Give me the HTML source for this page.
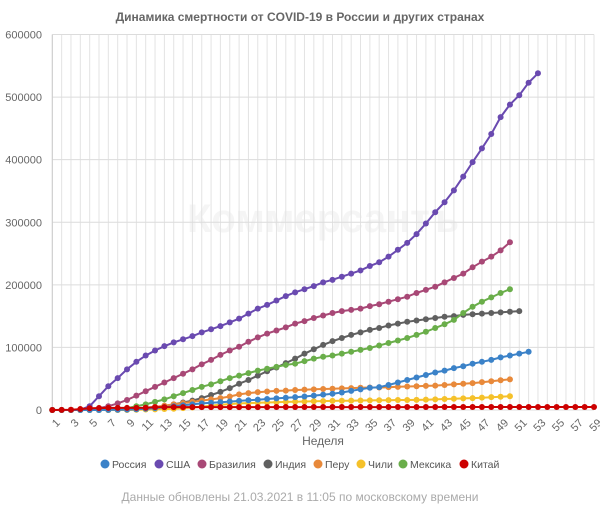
<!DOCTYPE html>
<html><head><meta charset="utf-8">
<style>
html,body{margin:0;padding:0;background:#fff;}
body{width:600px;height:504px;overflow:hidden;font-family:"Liberation Sans",sans-serif;}
svg text{font-family:"Liberation Sans",sans-serif;}
</style></head>
<body>
<svg id="chart" width="600" height="504" xmlns="http://www.w3.org/2000/svg">
<text x="300" y="21" text-anchor="middle" font-size="12" font-weight="bold" fill="#666">Динамика смертности от COVID-19 в России и других странах</text>
<text x="323" y="232" text-anchor="middle" font-size="40" font-weight="bold" fill="#f5f5f5">Коммерсантъ</text>
<g id="grid"></g>
<g id="axes"></g>
<g id="series"></g>
<text x="323" y="445" text-anchor="middle" font-size="12" fill="#666">Неделя</text>
<g id="legend"></g>
<text x="300" y="501" text-anchor="middle" font-size="12" fill="#aaa">Данные обновлены 21.03.2021 в 11:05 по московскому времени</text>
</svg>
<script>
const weeks = Array.from({length:59},(_,i)=>i+1);
const yTicks = [0,100000,200000,300000,400000,500000,600000];
const seriesNames = ["Россия","США","Бразилия","Индия","Перу","Чили","Мексика","Китай"];
const seriesColors = ["#3b82c8","#6a4ab0","#a84876","#606060","#e8893a","#f5c12a","#6aae4a","#cc0000"];
const russia = [0,0,0,0,0,50,100,300,700,1200,2000,3000,4500,6000,7500,9000,10500,11500,12500,13500,14500,15500,16500,17500,18500,19500,20500,21500,23000,24500,26000,28000,30500,33000,35500,36500,40000,44000,48000,52000,56000,60000,63000,67000,70000,74000,77000,80000,84000,87000,90000,93000];
const usa = [0,0,0,500,6000,22000,38000,51000,65000,77000,87000,95000,102000,108000,113000,118000,124000,129000,134000,140000,146000,154000,162000,168000,175000,182000,188000,193000,198000,204000,208000,213000,218000,223000,230000,236000,245000,256000,267000,281000,298000,316000,332000,351000,373000,396000,418000,441000,468000,488000,503000,523000,538000];
const brazil = [0,0,0,0,2000,3000,6000,10500,16000,23000,30000,37000,44000,51000,58000,65000,73000,80000,88000,95000,101000,109000,116000,122000,127000,132000,138000,142000,147000,151000,155000,158000,160000,162000,166000,169000,173000,177000,181000,187000,192000,197000,204000,211000,218000,228000,237000,245000,255000,268000];
const india = [0,0,0,0,0,0,0,100,200,600,1500,4000,6000,9000,12000,15000,19000,24000,29000,35000,42000,48000,55000,62000,68000,75000,82000,90000,97000,104000,110000,115000,120000,124000,128000,131000,135000,138000,141000,143000,145000,147000,149000,150000,152000,153000,154000,155000,156000,157000,158000];
const peru = [0,0,0,0,0,0,100,500,1000,2000,3500,5000,7000,9000,11000,13000,15000,17000,19000,21500,25000,27000,28500,29500,30500,31000,32000,32500,33000,33500,34000,34500,35000,35500,36000,36000,36500,37000,37500,38000,38500,39000,40000,41000,42000,43000,44500,46000,47500,49000];
const chile = [0,0,0,0,0,0,0,0,200,400,700,1000,1500,2000,3000,4000,5500,7000,8500,9500,10500,11000,11500,12000,12500,13000,13300,13600,13900,14200,14500,14700,14900,15100,15300,15500,15700,15900,16000,16200,16500,17000,17500,18000,18500,19000,19700,20500,21200,22000];
const mexico = [0,0,0,0,0,0,300,1000,3000,6000,9000,13000,17000,22000,27000,32000,37000,41000,46000,51000,55000,59000,63000,66000,69000,72000,74000,78000,82000,85000,87000,90000,93000,96000,99000,103000,107000,111000,115000,120000,125000,131000,137000,144000,155000,165000,173000,180000,187000,193000];
const china = [0,100,400,1500,2800,3100,3300,3300,3300,3400,3600,4600,4600,4600,4600,4600,4600,4600,4600,4600,4600,4600,4600,4600,4700,4700,4700,4700,4700,4700,4700,4700,4700,4700,4700,4700,4700,4700,4700,4700,4700,4700,4800,4800,4800,4800,4800,4800,4800,4800,4800,4800,4800,4800,4800,4800,4800,4800,4800];
const seriesData = [russia,usa,brazil,india,peru,chile,mexico,china];

const NS="http://www.w3.org/2000/svg";
const X0=52.3,X1=594,Y0=410,Y1=34.5;
const xScale=w=>X0+(w-1)*(X1-X0)/58;
const yScale=v=>Y0-v*(Y0-Y1)/600000;
function mk(tag,attrs,parent){const e=document.createElementNS(NS,tag);for(const k in attrs)e.setAttribute(k,attrs[k]);parent.appendChild(e);return e;}
const grid=document.getElementById('grid'),axes=document.getElementById('axes'),ser=document.getElementById('series'),leg=document.getElementById('legend');
weeks.forEach(w=>{
  const l=mk('line',{x1:xScale(w),x2:xScale(w),y1:Y1,y2:Y0,stroke:'#e3e3e3','stroke-width':1},grid);
  
  
  if(w%2===1){
    const x=xScale(w)+3,y=Y0+8;
    const t=mk('text',{x:x,y:y,'text-anchor':'end','font-size':11,fill:'#666',transform:`rotate(-45 ${x} ${y})`,dy:'0.7em'},axes);
    t.textContent=w;
    
    
  }
});
yTicks.forEach(v=>{
  const l=mk('line',{x1:X0,x2:X1,y1:yScale(v),y2:yScale(v),stroke:'#dcdcdc','stroke-width':1},grid);
  
  
  const t=mk('text',{x:42,y:yScale(v)+4,'text-anchor':'end','font-size':11,fill:'#666'},axes);
  t.textContent=v;
  
  
});
const ax=mk('line',{x1:X0,x2:X0,y1:Y1,y2:Y0,stroke:'#ccc'},axes);


const order=[1,2,3,6,4,5,0,7];
order.forEach(i=>{
  const g=mk('g',{},ser);
  
  
  const d=seriesData[i];
  const pts=d.map((v,k)=>xScale(k+1).toFixed(1)+','+yScale(v).toFixed(1)).join(' ');
  const pl=mk('polyline',{points:pts,fill:'none',stroke:seriesColors[i],'stroke-width':2},g);
  
  
  d.forEach((v,k)=>{
    const c=mk('circle',{cx:xScale(k+1),cy:yScale(v),r:3,fill:seriesColors[i]},g);
    
    
  });
});
const legX=[105,159,202,268,318,361,403,464];
seriesNames.forEach((n,i)=>{
  const g=mk('g',{},leg);
  
  
  mk('circle',{cx:legX[i],cy:464,r:4.5,fill:seriesColors[i]},g);
  const t=mk('text',{x:legX[i]+7,y:468,'font-size':10.5,fill:'#555'},g);
  t.textContent=n;
});
</script>
</body></html>
